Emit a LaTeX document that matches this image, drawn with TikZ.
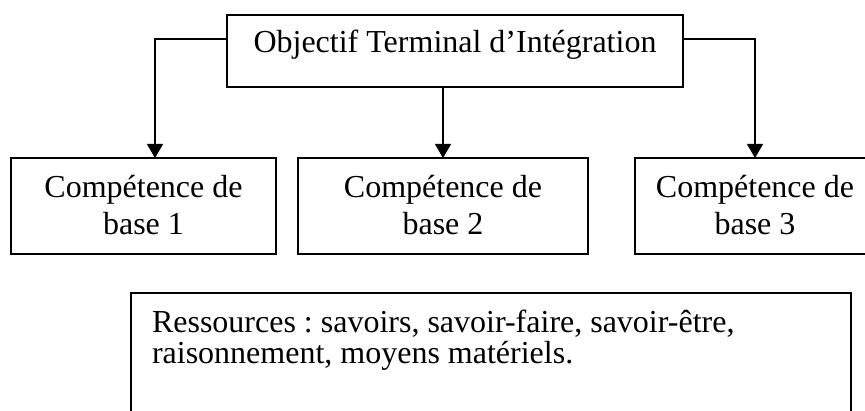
\documentclass[tikz,border=0pt]{standalone}
\usepackage{fontspec}
\setmainfont{Liberation Serif}
\usetikzlibrary{arrows.meta}
\frenchspacing
\begin{document}
\begin{tikzpicture}[x=1pt,y=-1pt,
  box/.style={draw, line width=1.2pt, rectangle, inner sep=0pt, outer sep=0pt},
  conn/.style={line width=1.2pt, -{Triangle[width=16pt,length=14pt]}},
  lbl/.style={inner sep=0pt, outer sep=0pt, anchor=base, font=\fontsize{32}{37}\selectfont}]
\clip (0,0) rectangle (865,411);
% boxes
\node[box, minimum width=456pt, minimum height=72pt] (top) at (455,51) {};
\node[box, minimum width=265pt, minimum height=96pt] (b1) at (143.5,206) {};
\node[box, minimum width=290pt, minimum height=96pt] (b2) at (443,206) {};
\node[box, minimum width=240pt, minimum height=96pt] (b3) at (755,206) {};
\node[box, minimum width=720pt, minimum height=147pt] (res) at (491,366.5) {};
% texts
\node[lbl] (ttop) at (455,53) {Objectif Terminal d’Intégration};
\node[lbl] (t1) at (143.5,198) {\begin{tabular}[t]{@{}c@{}}Compétence de\\ base 1\end{tabular}};
\node[lbl] (t2) at (443,198) {\begin{tabular}[t]{@{}c@{}}Compétence de\\ base 2\end{tabular}};
\node[lbl] (t3) at (755,198) {\begin{tabular}[t]{@{}c@{}}Compétence de\\ base 3\end{tabular}};
\node[inner sep=0pt, outer sep=0pt, anchor=base west, font=\fontsize{32}{29}\selectfont] (tres) at (152,333)
  {\frenchspacing\begin{tabular}[t]{@{}l@{}}Ressources : savoirs, savoir-faire, savoir-être,\\ raisonnement, moyens matériels.\end{tabular}};
% connectors
\coordinate (l1) at (155,39);
\coordinate (r1) at (755,39);
\draw[conn] (top.west |- l1) -| (b1.north -| l1);
\draw[conn] (b2.north |- top.south) -- (b2.north);
\draw[conn] (top.east |- r1) -| (b3.north);
\end{tikzpicture}
\end{document}
